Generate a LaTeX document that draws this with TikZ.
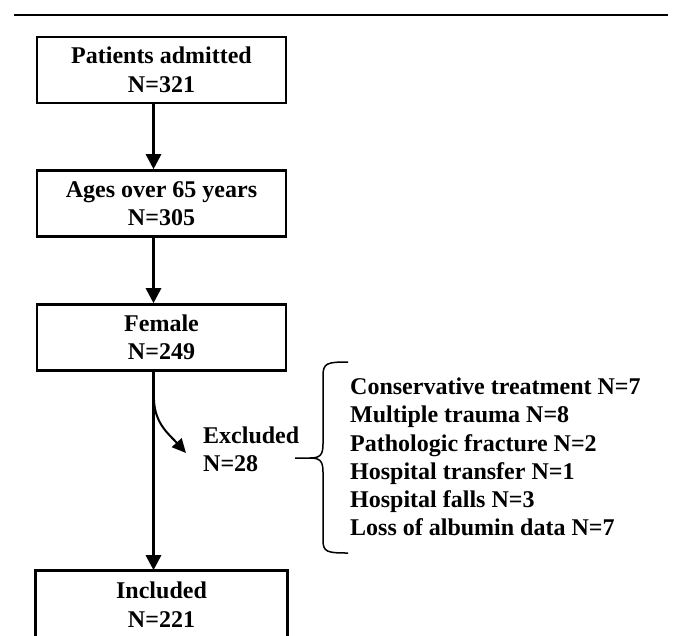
\documentclass[tikz,border=0pt]{standalone}
\usepackage{fontspec}
\setmainfont{Liberation Serif}
\usetikzlibrary{arrows.meta}
\tikzset{
  flowbox/.style={draw, line width=2.6pt, minimum width=249pt, minimum height=66pt, inner sep=0pt, align=center, font=\bfseries\fontsize{24}{28.5}\selectfont},
  plaintext/.style={inner sep=0pt, align=left, font=\bfseries\fontsize{24}{28.2}\selectfont},
  arr/.style={line width=2.8pt, -{Triangle[length=15pt,width=15pt]}},
  rule/.style={line width=2.6pt}
}
\begin{document}
\begin{tikzpicture}[x=1pt,y=-1pt]
\useasboundingbox (0,0) rectangle (679,635);
\coordinate (rl) at (14,15);
\coordinate (rr) at (668,15);
\draw[rule] (rl) -- (rr);
\node[flowbox] (b1) at (161.5,70) {Patients admitted\\N=321};
\node[flowbox] (b2) at (161.5,203.5) {Ages over 65 years\\N=305};
\node[flowbox] (b3) at (161.5,337.5) {Female\\N=249};
\node[flowbox, draw=none] (b4) at (161.5,604.5) {Included\\N=221};
\draw[line width=2.6pt] (b4.south west) -- (b4.north west) -- (b4.north east) -- (b4.south east);
\draw[arr] ([xshift=-8pt]b1.south) -- ([xshift=-8pt]b2.north);
\draw[arr] ([xshift=-8pt]b2.south) -- ([xshift=-8pt]b3.north);
\draw[arr] ([xshift=-8pt]b3.south) -- ([xshift=-8pt]b4.north);
\node[plaintext, anchor=west] (ex) at (203,449) {Excluded\\N=28};
\coordinate (cs) at (154,400);
\coordinate (ce) at (186,453);
\draw[line width=2pt, -{Triangle[length=14pt,width=13pt]}] (cs) to[out=-88,in=132] (ce);
\node[plaintext, anchor=west] (list) at (350,457) {Conservative treatment N=7\\Multiple trauma N=8\\Pathologic fracture N=2\\Hospital transfer N=1\\Hospital falls N=3\\Loss of albumin data N=7};
\draw[line width=1.5pt] (348,362) .. controls (327,362) and (323,363) .. (323,376) -- (323,444) .. controls (323,455) and (320,458) .. (310,458) -- (295,458);
\draw[line width=1.5pt] (310,458) .. controls (320,458) and (323,461) .. (323,472) -- (323,540) .. controls (323,552) and (327,553) .. (348,553);
\end{tikzpicture}
\end{document}
